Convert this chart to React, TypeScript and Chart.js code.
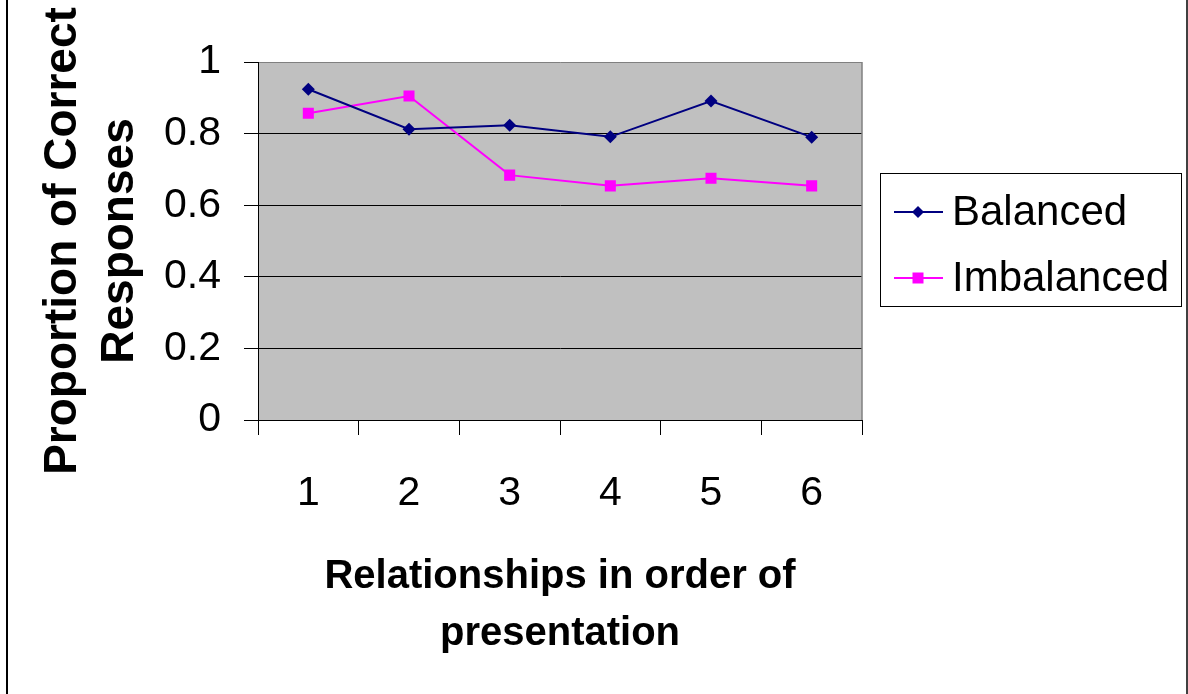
import React, { useEffect, useRef } from "react";
import { Chart, registerables } from "chart.js";

Chart.register(...registerables);

// ---- data ----
const categories = ["1", "2", "3", "4", "5", "6"];
const balanced = [0.924, 0.812, 0.823, 0.791, 0.891, 0.79];
const imbalanced = [0.857, 0.905, 0.684, 0.654, 0.675, 0.654];
const seriesNames = ["Balanced", "Imbalanced"];
const seriesColors = ["#000080", "#FF00FF"];
const seriesMarkers = ["rectRot", "rect"];
const yMin = 0;
const yMax = 1;
const yStep = 0.2;
const xTitle = ["Relationships in order of", "presentation"];
const yTitle = ["Proportion of Correct", "Responses"];

const FONT = "'Liberation Sans', Arial, Helvetica, sans-serif";

function drawMarker(ctx: CanvasRenderingContext2D, kind: string, x: number, y: number, color: string) {
  ctx.save();
  ctx.fillStyle = color;
  ctx.beginPath();
  if (kind === "rectRot") {
    const r = 6;
    ctx.moveTo(x, y - r);
    ctx.lineTo(x + r, y);
    ctx.lineTo(x, y + r);
    ctx.lineTo(x - r, y);
    ctx.closePath();
  } else {
    const h = 5.5;
    ctx.rect(x - h, y - h, 2 * h, 2 * h);
  }
  ctx.fill();
  ctx.restore();
}

const framePlugin = {
  id: "excelFrame",
  beforeDraw(chart: any) {
    const { ctx, chartArea } = chart;
    const { left, top, right, bottom } = chartArea;
    ctx.save();
    ctx.fillStyle = "#FFFFFF";
    ctx.fillRect(0, 0, chart.width, chart.height);
    ctx.fillStyle = "#C0C0C0";
    ctx.fillRect(left, top, right - left, bottom - top);
    ctx.restore();
  },
  beforeDatasetsDraw(chart: any) {
    const { ctx, chartArea } = chart;
    const { top, right, bottom } = chartArea;
    ctx.save();
    ctx.strokeStyle = "#808080";
    ctx.lineWidth = 1.5;
    ctx.beginPath();
    ctx.moveTo(right, top);
    ctx.lineTo(right, bottom);
    ctx.stroke();
    ctx.restore();
  },
  afterDraw(chart: any) {
    const { ctx } = chart;
    ctx.save();
    // legend box
    const bx = 880.5, by = 173.5, bw = 301, bh = 133;
    ctx.strokeStyle = "#000000";
    ctx.lineWidth = 1;
    ctx.strokeRect(bx, by, bw, bh);
    const rows = [212, 278];
    chart.data.datasets.forEach((ds: any, i: number) => {
      const y = rows[i];
      ctx.strokeStyle = ds.borderColor;
      ctx.lineWidth = 2;
      ctx.beginPath();
      ctx.moveTo(894, y);
      ctx.lineTo(943, y);
      ctx.stroke();
      drawMarker(ctx, seriesMarkers[i], 918, y, ds.borderColor);
      ctx.fillStyle = "#000000";
      ctx.font = `42px ${FONT}`;
      ctx.textBaseline = "middle";
      ctx.textAlign = "left";
      ctx.fillText(ds.label, 952, y + 1);
    });
    // page side borders
    ctx.fillStyle = "#000000";
    ctx.fillRect(6, 0, 2, chart.height);
    ctx.fillStyle = "#404040";
    ctx.fillRect(1186, 0, 2, chart.height);
    ctx.restore();
  },
};

export default function App() {
  const ref = useRef<HTMLCanvasElement | null>(null);

  useEffect(() => {
    if (!ref.current) return;
    const datasets = [balanced, imbalanced].map((vals, i) => ({
      label: seriesNames[i],
      data: vals,
      borderColor: seriesColors[i],
      backgroundColor: seriesColors[i],
      borderWidth: 2,
      pointStyle: seriesMarkers[i],
      pointRadius: i === 0 ? 6.5 : 7.8,
      pointBorderWidth: 0,
      pointBackgroundColor: seriesColors[i],
      pointBorderColor: seriesColors[i],
      tension: 0,
    }));
    const chart = new Chart(ref.current, {
      type: "line",
      data: { labels: categories, datasets },
      plugins: [framePlugin],
      options: {
        animation: false,
        responsive: false,
        devicePixelRatio: 1,
        layout: { padding: { left: 0, top: 62, right: 326, bottom: 0 } },
        plugins: {
          legend: { display: false },
          tooltip: { enabled: false },
        },
        scales: {
          x: {
            type: "category",
            offset: true,
            afterFit: (s: any) => {
              s.height = 274;
            },
            grid: {
              offset: true,
              drawOnChartArea: false,
              drawTicks: true,
              tickLength: 15,
              color: "#000000",
              tickColor: "#000000",
            },
            border: { display: true, color: "#000000", width: 1 },
            ticks: {
              color: "#000000",
              padding: 34,
              font: { family: FONT, size: 41 },
              maxRotation: 0,
            },
            title: {
              display: true,
              text: xTitle,
              color: "#000000",
              font: { family: FONT, size: 40, weight: "bold", lineHeight: 1.425 },
              padding: { top: 0, bottom: 32 },
            },
          },
          y: {
            min: yMin,
            max: yMax,
            afterFit: (s: any) => {
              s.width = 258;
            },
            grid: {
              color: (c: any) => (c.tick && c.tick.value === yMax ? "#808080" : "#000000"),
              tickColor: "#000000",
              lineWidth: 1,
              drawTicks: true,
              tickLength: 14,
            },
            border: { display: true, color: "#000000", width: 1 },
            ticks: {
              stepSize: yStep,
              color: "#000000",
              padding: 23,
              font: { family: FONT, size: 41 },
              callback: (v: any) => String(Math.round(Number(v) * 10) / 10),
            },
            title: {
              display: true,
              text: yTitle,
              color: "#000000",
              font: { family: FONT, size: 46, weight: "bold", lineHeight: 1.23 },
              padding: { top: 35, bottom: 0 },
            },
          },
        },
      } as any,
    });
    return () => chart.destroy();
  }, []);

  return (
    <div style={{ position: "fixed", left: 0, top: 0, width: 1188, height: 694, background: "#fff" }}>
      <canvas ref={ref} width={1188} height={694} style={{ display: "block", width: 1188, height: 694 }} />
    </div>
  );
}
